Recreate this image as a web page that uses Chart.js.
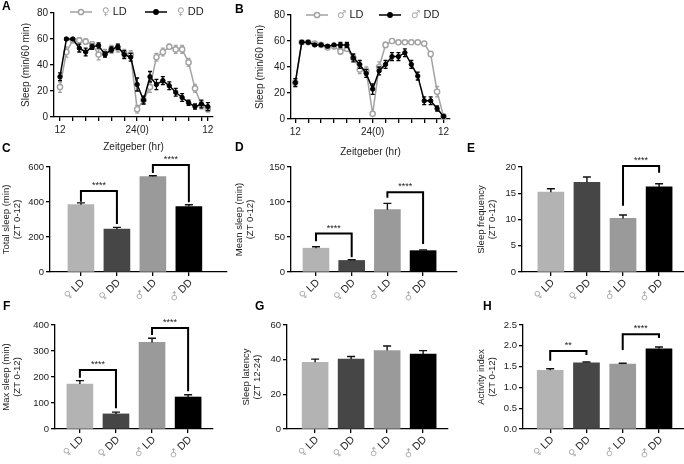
<!DOCTYPE html>
<html>
<head>
<meta charset="utf-8">
<script src="https://cdn.jsdelivr.net/npm/chart.js@4.4.0/dist/chart.umd.min.js"></script>
<style>
  html, body { margin: 0; padding: 0; background: #fff; }
  #wrap { position: relative; width: 684px; height: 464px; overflow: hidden;
          font-family: 'Liberation Sans', Arial, Helvetica, sans-serif; }
  #wrap canvas { position: absolute; left: 0; top: 0; }
  .tag { position: absolute; font-weight: bold; font-size: 12px; line-height: 12px; color: #000; }
</style>
</head>
<body>
<div id="wrap">
  <canvas id="cA" width="684" height="464"></canvas>
  <canvas id="cB" width="684" height="464"></canvas>
  <canvas id="cC" width="684" height="464"></canvas>
  <canvas id="cD" width="684" height="464"></canvas>
  <canvas id="cE" width="684" height="464"></canvas>
  <canvas id="cF" width="684" height="464"></canvas>
  <canvas id="cG" width="684" height="464"></canvas>
  <canvas id="cH" width="684" height="464"></canvas>
  <div class="tag" style="left:2px;top:0px">A</div>
  <div class="tag" style="left:235px;top:3px">B</div>
  <div class="tag" style="left:2px;top:142px">C</div>
  <div class="tag" style="left:235px;top:141px">D</div>
  <div class="tag" style="left:467px;top:142px">E</div>
  <div class="tag" style="left:3px;top:300px">F</div>
  <div class="tag" style="left:255px;top:300px">G</div>
  <div class="tag" style="left:483px;top:300px">H</div>
</div>
<script>
// --- data ---------------------------------------------------------------
// hours after ZT12 (one point per hour)
const zt = [0, 1, 2, 3, 4, 5, 6, 7, 8, 9, 10, 11, 12, 13, 14, 15, 16, 17, 18, 19, 20, 21, 22, 23];
const ztTickPos = [0, 2, 4, 6, 8, 10, 12, 14, 16, 18, 20, 22, 23];
const ztTickText = ['12', '', '', '', '', '', '24(0)', '', '', '', '', '', '12'];

const femaleLD    = [23, 50, 59, 59, 58, 56, 48, 49, 52, 53, 49, 48, 6, 13, 23, 46, 50, 54, 52, 52, 42, 22, 9, 6];
const femaleLDerr = [4, 4, 2, 2, 2, 2, 4, 3, 3, 3, 3, 3, 3, 3, 4, 3, 3, 2, 3, 3, 3, 3, 3, 2];
const femaleDD    = [31, 60, 60, 53, 50, 54, 55, 48, 52, 54, 48, 46, 25, 13, 31, 25, 28, 24, 19, 15, 11, 8, 10, 8];
const femaleDDerr = [3, 1, 1, 3, 3, 2, 2, 2, 2, 2, 3, 3, 5, 3, 4, 4, 3, 3, 3, 3, 2, 2, 3, 3];

const maleLD    = [28, 59, 59, 58, 57, 55, 56, 52, 54, 47, 38, 37, 4, 40, 57, 60, 59, 59, 59, 59, 58, 50, 21, 2];
const maleLDerr = [3, 1, 1, 1, 1, 1, 2, 2, 2, 2, 3, 3, 1, 4, 2, 1, 1, 1, 1, 1, 1, 2, 4, 1];
const maleDD    = [28, 59, 59, 57, 57, 56, 57, 57, 57, 47, 42, 35, 23, 37, 42, 48, 48, 51, 42, 33, 14, 14, 8, 2];
const maleDDerr = [3, 1, 1, 1, 1, 1, 1, 2, 2, 3, 3, 3, 4, 3, 3, 3, 3, 3, 3, 3, 3, 3, 2, 1];

const groups = ['♀ LD', '♀ DD', '♂ LD', '♂ DD'];
const groupPos = [0, 1, 2, 3];

const totalSleep = [385, 245, 545, 374];
const totalSleepErr = [10, 10, 5, 10];
const meanSleep = [34, 16.5, 89, 30.5];
const meanSleepErr = [2, 1, 9, 1];
const sleepFreq = [15.2, 17.1, 10.2, 16.2];
const sleepFreqErr = [0.65, 1.0, 0.65, 0.6];
const maxSleep = [173, 58, 333, 123];
const maxSleepErr = [13, 7, 16, 9];
const sleepLatency = [38.5, 40.4, 45.3, 43.2];
const sleepLatencyErr = [1.8, 1.4, 2.6, 2.0];
const activityIdx = [1.41, 1.59, 1.56, 1.93];
const activityIdxErr = [0.04, 0.02, 0.02, 0.04];

// --- style --------------------------------------------------------------
const FONT = "'Liberation Sans', Arial, Helvetica, sans-serif";
const SYMFONT = "'DejaVu Sans', sans-serif";
const grayLine = '#a2a2a2';
const symGray = '#a8a8a8';
const barColors = ['#b3b3b3', '#464646', '#9a9a9a', '#000000'];

Chart.defaults.font.family = FONT;
Chart.defaults.color = '#222';
Chart.defaults.animation = false;

// symbol (gray, DejaVu) + text (dark), right-aligned at 0,0 of current transform
function drawSexLabel(ctx, label, size, align) {
  const sym = label.slice(0, 1), txt = label.slice(2);
  ctx.font = size + 'px ' + FONT;
  const wt = ctx.measureText(txt).width;
  const ws = ctx.measureText(' ').width;
  ctx.font = (size - 0.5) + 'px ' + SYMFONT;
  const wsym = ctx.measureText(sym).width;
  const x0 = align === 'right' ? -(wt + ws + wsym) : 0;
  ctx.textAlign = 'left';
  ctx.fillStyle = symGray;
  ctx.fillText(sym, x0, 0);
  ctx.font = size + 'px ' + FONT;
  ctx.fillStyle = '#222';
  ctx.fillText(txt, x0 + wsym + ws, 0);
}

function drawErr(chart, di, o) {
  const errs = o.errors[di];
  if (!errs) return;
  const ctx = chart.ctx, ys = chart.scales.y, ds = chart.data.datasets[di];
  const meta = chart.getDatasetMeta(di);
  ctx.save();
  ctx.strokeStyle = o.errColors[di];
  ctx.lineWidth = o.errWidth;
  ctx.beginPath();
  meta.data.forEach((el, i) => {
    const v = ds.data[i].y, e = errs[i];
    const top = ys.getPixelForValue(v + e);
    const bot = ys.getPixelForValue(o.upOnly ? v : v - e);
    const x = el.x, c = o.cap;
    ctx.moveTo(x, top); ctx.lineTo(x, bot);
    ctx.moveTo(x - c, top); ctx.lineTo(x + c, top);
    if (!o.upOnly) { ctx.moveTo(x - c, bot); ctx.lineTo(x + c, bot); }
  });
  ctx.stroke();
  ctx.restore();
}

function drawBrackets(chart, o) {
  if (!o.brackets) return;
  const ctx = chart.ctx, xs = chart.scales.x, ys = chart.scales.y;
  ctx.save();
  ctx.strokeStyle = '#000';
  ctx.lineWidth = 2;
  ctx.fillStyle = '#222';
  ctx.font = '9px ' + FONT;
  ctx.textAlign = 'center';
  ctx.textBaseline = 'alphabetic';
  o.brackets.forEach(b => {
    const xa = xs.getPixelForValue(b.a), xb = xs.getPixelForValue(b.b);
    const yh = ys.getPixelForValue(b.h);
    ctx.beginPath();
    ctx.moveTo(xa, ys.getPixelForValue(b.la));
    ctx.lineTo(xa, yh);
    ctx.lineTo(xb, yh);
    ctx.lineTo(xb, ys.getPixelForValue(b.lb));
    ctx.stroke();
    ctx.fillText(b.t, (xa + xb) / 2, yh - 3);
  });
  ctx.restore();
}

function drawGroupLabels(chart, o) {
  if (!o.groupLabels) return;
  const ctx = chart.ctx, xs = chart.scales.x, bottom = chart.chartArea.bottom;
  groupPos.forEach((v, i) => {
    ctx.save();
    ctx.translate(xs.getPixelForValue(v) + 2, bottom + 9);
    ctx.rotate(-Math.PI / 4);
    ctx.textBaseline = 'middle';
    drawSexLabel(ctx, groups[i], 10.5, 'right');
    ctx.restore();
  });
}

function drawLegend(chart, o) {
  if (!o.legend) return;
  const ctx = chart.ctx;
  o.legend.forEach(it => {
    const ds = chart.data.datasets[it.ds];
    ctx.save();
    ctx.strokeStyle = ds.borderColor;
    ctx.lineWidth = 1.5;
    ctx.beginPath(); ctx.moveTo(it.x, it.y); ctx.lineTo(it.x + 22, it.y); ctx.stroke();
    ctx.beginPath(); ctx.arc(it.x + 11, it.y, ds.pointRadius, 0, Math.PI * 2);
    ctx.fillStyle = ds.pointBackgroundColor; ctx.fill(); ctx.stroke();
    ctx.translate(it.tx, it.y);
    ctx.textBaseline = 'middle';
    drawSexLabel(ctx, ds.label, 11, 'left');
    ctx.restore();
  });
}

function extras(o) {
  return {
    id: 'extras',
    beforeDatasetDraw(chart, args) { if (o.errLayer === 'before') drawErr(chart, args.index, o); },
    afterDatasetDraw(chart, args) { if (o.errLayer === 'after') drawErr(chart, args.index, o); },
    afterDraw(chart) { drawBrackets(chart, o); drawLegend(chart, o); drawGroupLabels(chart, o); }
  };
}

function axisBase(fontSize) {
  return {
    border: { display: true, color: '#000', width: 1.3 },
    grid: { display: true, drawOnChartArea: false, drawTicks: true, tickLength: 4, color: '#000', lineWidth: 1.3, offset: false },
    ticks: { color: '#222', font: { size: fontSize }, padding: 2, autoSkip: false }
  };
}

// --- line panels (A, B) -------------------------------------------------
function lineChart(id, p) {
  const ld = p.ld.map((v, i) => ({ x: zt[i], y: v }));
  const dd = p.dd.map((v, i) => ({ x: zt[i], y: v }));
  const xAxis = axisBase(10);
  const yAxis = axisBase(10);
  new Chart(document.getElementById(id), {
    type: 'line',
    data: {
      datasets: [
        { label: p.labels[0], data: ld, borderColor: grayLine, backgroundColor: grayLine,
          pointBackgroundColor: '#fff', pointBorderColor: grayLine, pointRadius: 2.6, pointBorderWidth: 1.4,
          borderWidth: 1.5, order: 1, clip: false },
        { label: p.labels[1], data: dd, borderColor: '#000', backgroundColor: '#000',
          pointBackgroundColor: '#000', pointBorderColor: '#000', pointRadius: 2.2, pointBorderWidth: 1,
          borderWidth: 1.5, order: 0, clip: false }
      ]
    },
    options: {
      responsive: false, devicePixelRatio: 1,
      layout: { autoPadding: false, padding: p.pad },
      plugins: { legend: { display: false }, tooltip: { enabled: false } },
      scales: {
        x: Object.assign(xAxis, {
          type: 'linear', min: p.xmin, max: p.xmax, offset: false,
          afterBuildTicks: s => { s.ticks = ztTickPos.map(v => ({ value: v })); },
          afterFit: s => { s.height = p.xh; },
          ticks: Object.assign(xAxis.ticks, { maxRotation: 0, minRotation: 0, padding: 3,
            callback: (v, i) => ztTickText[i] }),
          title: { display: true, text: 'Zeitgeber (hr)', font: { size: 10, lineHeight: 1.2 }, color: '#222', padding: 0 }
        }),
        y: Object.assign(yAxis, {
          min: 0, max: 80,
          afterBuildTicks: s => { s.ticks = [0, 20, 40, 60, 80].map(v => ({ value: v })); },
          afterFit: s => { s.width = p.yw; },
          title: { display: true, text: 'Sleep (min/60 min)', font: { size: 10, lineHeight: 1.2 }, color: '#222', padding: 0 }
        })
      }
    },
    plugins: [extras({
      errors: [p.ldErr, p.ddErr], errColors: [grayLine, '#000'], errWidth: 1.3, cap: 2,
      upOnly: false, errLayer: 'before', legend: p.legend
    })]
  });
}

lineChart('cA', {
  ld: femaleLD, dd: femaleDD, ldErr: femaleLDerr, ddErr: femaleDDerr,
  labels: ['♀ LD', '♀ DD'],
  pad: { left: 20, top: 13, right: 471, bottom: 311 }, yw: 34, xh: 36,
  xmin: -0.93, xmax: 23.8,
  legend: [{ ds: 0, x: 70, y: 12, tx: 102 }, { ds: 1, x: 145, y: 12, tx: 177 }]
});

lineChart('cB', {
  ld: maleLD, dd: maleDD, ldErr: maleLDerr, ddErr: maleDDerr,
  labels: ['♂ LD', '♂ DD'],
  pad: { left: 254, top: 15, right: 234, bottom: 306 }, yw: 37, xh: 39,
  xmin: -0.67, xmax: 24.0,
  legend: [{ ds: 0, x: 306, y: 15, tx: 337 }, { ds: 1, x: 379, y: 15, tx: 411 }]
});

// --- bar panels (C - H) -------------------------------------------------
function barChart(id, p) {
  const xAxis = axisBase(10);
  const yAxis = axisBase(9.5);
  new Chart(document.getElementById(id), {
    type: 'bar',
    data: {
      datasets: [{
        data: p.values.map((v, i) => ({ x: groupPos[i], y: v })),
        backgroundColor: barColors, borderWidth: 0, barThickness: 26
      }]
    },
    options: {
      responsive: false, devicePixelRatio: 1,
      layout: { autoPadding: false, padding: p.pad },
      plugins: { legend: { display: false }, tooltip: { enabled: false } },
      scales: {
        x: Object.assign(xAxis, {
          type: 'linear', min: p.xmin, max: p.xmax, offset: false,
          afterBuildTicks: s => { s.ticks = groupPos.map(v => ({ value: v })); },
          afterFit: s => { s.height = 30; },
          ticks: Object.assign(xAxis.ticks, { display: false })
        }),
        y: Object.assign(yAxis, {
          min: 0, max: p.ymax,
          afterBuildTicks: s => { s.ticks = p.yticks.map(v => ({ value: v })); },
          afterFit: s => { s.width = p.yw; },
          ticks: Object.assign(yAxis.ticks, { callback: p.fmt || (v => v) }),
          title: { display: true, text: p.title, font: { size: 9.5, lineHeight: 1.25 }, color: '#222', padding: 0 }
        })
      }
    },
    plugins: [extras({
      errors: [p.err], errColors: ['#111'], errWidth: 1.4, cap: 4,
      upOnly: true, errLayer: 'after', brackets: p.brackets, groupLabels: true
    })]
  });
}

barChart('cC', {
  values: totalSleep, err: totalSleepErr, title: ['Total sleep (min)', '(ZT 0-12)'],
  ymax: 600, yticks: [0, 200, 400, 600],
  pad: { left: 0, top: 167, right: 457, bottom: 162 }, yw: 50, xmin: -0.86, xmax: 4.06,
  brackets: [{ a: 0, b: 1, h: 463, la: 402, lb: 275, t: '****' },
             { a: 2, b: 3, h: 611, la: 566, lb: 398, t: '****' }]
});

barChart('cD', {
  values: meanSleep, err: meanSleepErr, title: ['Mean sleep (min)', '(ZT 0-12)'],
  ymax: 150, yticks: [0, 50, 100, 150],
  pad: { left: 233, top: 167, right: 227, bottom: 162 }, yw: 58, xmin: -0.70, xmax: 3.95,
  brackets: [{ a: 0, b: 1, h: 55, la: 44, lb: 21, t: '****' },
             { a: 2, b: 3, h: 114, la: 106, lb: 40, t: '****' }]
});

barChart('cE', {
  values: sleepFreq, err: sleepFreqErr, title: ['Sleep frequency', '(ZT 0-12)'],
  ymax: 20, yticks: [0, 5, 10, 15, 20],
  pad: { left: 475, top: 167, right: 0, bottom: 162 }, yw: 47, xmin: -0.80, xmax: 3.69,
  brackets: [{ a: 2, b: 3, h: 20.2, la: 12.6, lb: 18.9, t: '****' }]
});

barChart('cF', {
  values: maxSleep, err: maxSleepErr, title: ['Max sleep (min)', '(ZT 0-12)'],
  ymax: 400, yticks: [0, 100, 200, 300, 400],
  pad: { left: 0, top: 325, right: 471, bottom: 5 }, yw: 55, xmin: -0.69, xmax: 3.69,
  brackets: [{ a: 0, b: 1, h: 227, la: 197, lb: 80, t: '****' },
             { a: 2, b: 3, h: 388, la: 362, lb: 145, t: '****' }]
});

barChart('cG', {
  values: sleepLatency, err: sleepLatencyErr, title: ['Sleep latency', '(ZT 12-24)'],
  ymax: 60, yticks: [0, 20, 40, 60],
  pad: { left: 240, top: 325, right: 236, bottom: 5 }, yw: 47, xmin: -0.78, xmax: 3.69
});

barChart('cH', {
  values: activityIdx, err: activityIdxErr, title: ['Activity index', '(ZT 0-12)'],
  ymax: 2.5, yticks: [0, 0.5, 1, 1.5, 2, 2.5], fmt: v => Number(v).toFixed(1),
  pad: { left: 475, top: 325, right: 0, bottom: 5 }, yw: 48, xmin: -0.75, xmax: 3.69,
  brackets: [{ a: 0, b: 1, h: 1.875, la: 1.64, lb: 1.78, t: '**' },
             { a: 2, b: 3, h: 2.28, la: 1.9, lb: 2.19, t: '****' }]
});
</script>
</body>
</html>
